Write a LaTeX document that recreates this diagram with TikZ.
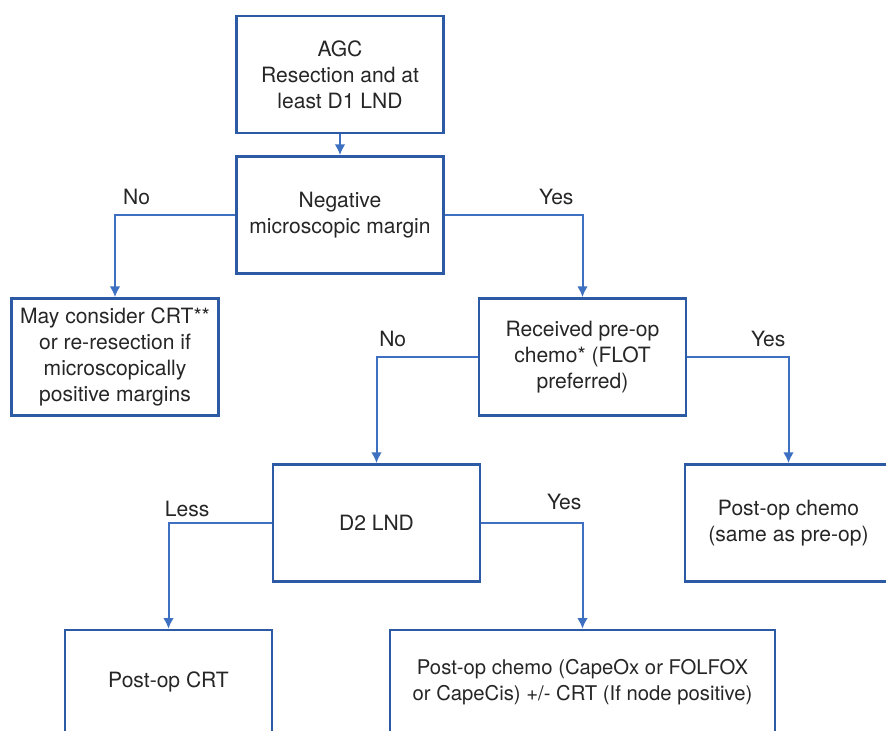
\documentclass[tikz,border=0pt]{standalone}
\usepackage{fontspec}
\setmainfont{TeX Gyre Heros}
\usetikzlibrary{arrows.meta}
\definecolor{boxblue}{RGB}{44,90,164}
\definecolor{arrblue}{RGB}{62,112,194}
\tikzset{box/.style={draw=boxblue,line width=1.9pt,align=center,minimum width=155pt,minimum height=88pt,inner sep=2pt,font=\fontsize{15.8}{19.5}\selectfont,text=black!85},
arr/.style={draw=arrblue,line width=1.5pt,-{Latex[length=8pt,width=8pt]}},
lbl/.style={above,font=\fontsize{15.8}{17}\selectfont,text=black!85,inner sep=3pt,yshift=4pt}}

\begin{document}
\begin{tikzpicture}[x=0.75pt,y=-0.75pt]
 	\clip (0,0) rectangle (886,731);
 	\node[box] (agc) at (340,74.5) {AGC\\Resection and at\\least D1 LND};
 	\node[box] (neg) at (340,215) {Negative\\microscopic margin};
 	\node[box] (crtre) at (115,357) {May consider CRT**\\or re-resection if\\microscopically\\positive margins};
 	\node[box] (pre) at (582.5,357) {Received pre-op\\chemo* (FLOT\\preferred)};
 	\node[box] (d2) at (376.5,523) {D2 LND};
 	\node[box] (same) at (788.5,523) {Post-op chemo\\(same as pre-op)};
 	\node[box,minimum height=78pt] (crt) at (168.5,682) {Post-op CRT};
 	\node[box,minimum height=78pt,minimum width=289pt,font=\fontsize{15.2}{19}\selectfont] (capox) at (582.5,682)
 	  {Post-op chemo (CapeOx or FOLFOX\\or CapeCis) +/- CRT (If node positive)};
 	
 	\draw[arr] (agc) -- (neg);
 	\draw[arr] (neg.west) -| node[lbl,pos=0.41]{No} (crtre.north);
 	\draw[arr] (neg.east) -| node[lbl,pos=0.405]{Yes} (pre.north);
 	\draw[arr] (pre.west) -| node[lbl,pos=0.42]{No} (d2.north);
 	\draw[arr] (pre.east) -| node[lbl,pos=0.4]{Yes} (same.north);
 	\draw[arr] (d2.west) -| node[lbl,pos=0.41,inner sep=1pt,yshift=-1pt]{Less} (crt.north);
 	\draw[arr] (d2.east) -| node[lbl,pos=0.41,yshift=2pt]{Yes} (capox.north);
\end{tikzpicture}
\end{document}
